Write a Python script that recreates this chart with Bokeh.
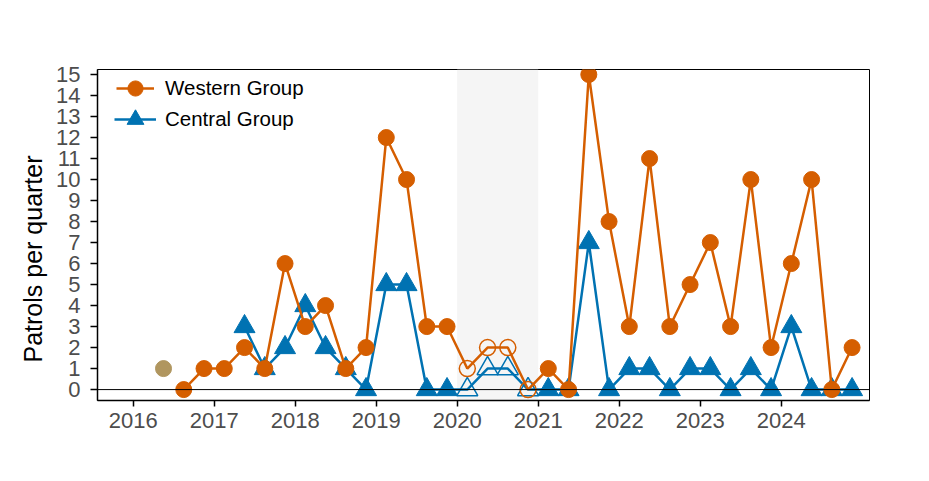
from bokeh.plotting import figure
from bokeh.models import (Range1d, FixedTicker, BoxAnnotation, Span, Legend,
                          LegendItem, Title)
from bokeh.embed import file_html
from bokeh.resources import INLINE

# ---------------- data ----------------
tick_years = [2016, 2017, 2018, 2019, 2020, 2021, 2022, 2023, 2024]
tick_labels = ["2016", "2017", "2018", "2019", "2020", "2021", "2022", "2023", "2024"]
y_ticks = [0, 1, 2, 3, 4, 5, 6, 7, 8, 9, 10, 11, 12, 13, 14, 15]

western_quarters = [
    "2016-Q3", "2016-Q4",
    "2017-Q1", "2017-Q2", "2017-Q3", "2017-Q4",
    "2018-Q1", "2018-Q2", "2018-Q3", "2018-Q4",
    "2019-Q1", "2019-Q2", "2019-Q3", "2019-Q4",
    "2020-Q1", "2020-Q2", "2020-Q3", "2020-Q4",
    "2021-Q1", "2021-Q2", "2021-Q3", "2021-Q4",
    "2022-Q1", "2022-Q2", "2022-Q3", "2022-Q4",
    "2023-Q1", "2023-Q2", "2023-Q3", "2023-Q4",
    "2024-Q1", "2024-Q2", "2024-Q3", "2024-Q4",
]
western_values = [
    0, 1,
    1, 2, 1, 6,
    3, 4, 1, 2,
    12, 10, 3, 3,
    1, 2, 2, 0,
    1, 0, 15, 8,
    3, 11, 3, 5,
    7, 3, 10, 2,
    6, 10, 0, 2,
]

central_quarters = [
    "2017-Q2", "2017-Q3", "2017-Q4",
    "2018-Q1", "2018-Q2", "2018-Q3", "2018-Q4",
    "2019-Q1", "2019-Q2", "2019-Q3", "2019-Q4",
    "2020-Q1", "2020-Q2", "2020-Q3", "2020-Q4",
    "2021-Q1", "2021-Q2", "2021-Q3", "2021-Q4",
    "2022-Q1", "2022-Q2", "2022-Q3", "2022-Q4",
    "2023-Q1", "2023-Q2", "2023-Q3", "2023-Q4",
    "2024-Q1", "2024-Q2", "2024-Q3", "2024-Q4",
]
central_values = [
    3, 1, 2,
    4, 2, 1, 0,
    5, 5, 0, 0,
    0, 1, 1, 0,
    0, 0, 7, 0,
    1, 1, 0, 1,
    1, 0, 1, 0,
    3, 0, 0, 0,
]

other_quarters = ["2016-Q2"]
other_values = [1]

shade_start, shade_end = 2020, 2021   # period drawn with hollow markers

# ---------------- helpers ----------------
def qpos(q):
    y, n = q.split("-Q")
    return int(y) + (int(n) - 0.5) / 4.0

def split(quarters, values):
    xs = [qpos(q) for q in quarters]
    fx, fy, hx, hy = [], [], [], []
    for x, v in zip(xs, values):
        if shade_start <= x < shade_end:
            hx.append(x); hy.append(v)
        else:
            fx.append(x); fy.append(v)
    return xs, fx, fy, hx, hy

ORANGE = "#D55E00"
BLUE = "#0072B2"
TAN = "#B0965F"
FONT = "Liberation Sans"

p = figure(frame_width=772, frame_height=331,
           min_border_left=97, min_border_top=69,
           min_border_right=40, min_border_bottom=60,
           x_range=Range1d(2015.56, 2025.09), y_range=Range1d(-0.52, 15.24),
           output_backend="svg", toolbar_location=None)

p.xgrid.visible = False
p.ygrid.visible = False
p.background_fill_color = "white"
p.border_fill_color = "white"
p.outline_line_color = "black"
p.outline_line_width = 1

# shaded period
p.add_layout(BoxAnnotation(left=shade_start, right=shade_end,
                           fill_color="#F5F5F5", fill_alpha=1.0,
                           line_color=None, level="underlay"))
# zero line
p.add_layout(Span(location=0, dimension="width", line_color="black",
                  line_width=1))

# Central group (drawn first, beneath)
c_all, c_fx, c_fy, c_hx, c_hy = split(central_quarters, central_values)
c_line = p.line(c_all, central_values, line_color=BLUE, line_width=2.5)
c_tri = p.scatter(c_fx, c_fy, marker="triangle", size=21,
                  fill_color=BLUE, line_color=BLUE, line_width=1)
p.scatter(c_hx, c_hy, marker="triangle", size=21,
          fill_color=None, line_color=BLUE, line_width=1.5)

# Western group
w_all, w_fx, w_fy, w_hx, w_hy = split(western_quarters, western_values)
w_line = p.line(w_all, western_values, line_color=ORANGE, line_width=2.5)
w_dot = p.scatter(w_fx, w_fy, marker="circle", size=16,
                  fill_color=ORANGE, line_color=ORANGE, line_width=1)
p.scatter(w_hx, w_hy, marker="circle", size=16,
          fill_color=None, line_color=ORANGE, line_width=1.5)

# other point
p.scatter([qpos(q) for q in other_quarters], other_values, marker="circle",
          size=16, fill_color=TAN, line_color=TAN)

# axes
for ax in (p.xaxis, p.yaxis):
    ax.axis_line_color = "black"
    ax.axis_line_width = 1.5
    ax.major_tick_line_color = "black"
    ax.major_tick_line_width = 1.5
    ax.major_tick_in = 0
    ax.minor_tick_line_color = None
    ax.major_label_text_font = FONT
    ax.major_label_text_font_size = "22px"
    ax.major_label_text_color = "#4D4D4D"

p.xaxis.ticker = FixedTicker(ticks=tick_years)
p.xaxis.major_label_overrides = {y: l for y, l in zip(tick_years, tick_labels)}
p.xaxis.major_tick_out = 6
p.xaxis.major_label_standoff = 6

p.yaxis.ticker = FixedTicker(ticks=y_ticks)
p.yaxis.major_tick_out = 7
p.yaxis.major_label_standoff = 10

# y axis title
p.add_layout(Title(text="Patrols per quarter", align="left", offset=38,
                   text_font=FONT, text_font_size="25px",
                   text_font_style="normal", text_color="black",
                   standoff=14), "left")

common = dict(orientation="vertical", padding=0, margin=0,
              label_text_font=FONT, label_text_font_size="20.5px",
              label_text_color="black", border_line_color=None,
              background_fill_alpha=0)
legend_w = Legend(items=[LegendItem(label="Western Group", renderers=[w_line, w_dot])],
                  location=(19, 293), glyph_width=38, glyph_height=38,
                  label_standoff=11, **common)
legend_c = Legend(items=[LegendItem(label="Central Group", renderers=[c_line, c_tri])],
                  location=(17, 260), glyph_width=42, glyph_height=42,
                  label_standoff=9, **common)
p.add_layout(legend_w)
p.add_layout(legend_c)

open("out.html", "w").write(file_html(p, INLINE))
